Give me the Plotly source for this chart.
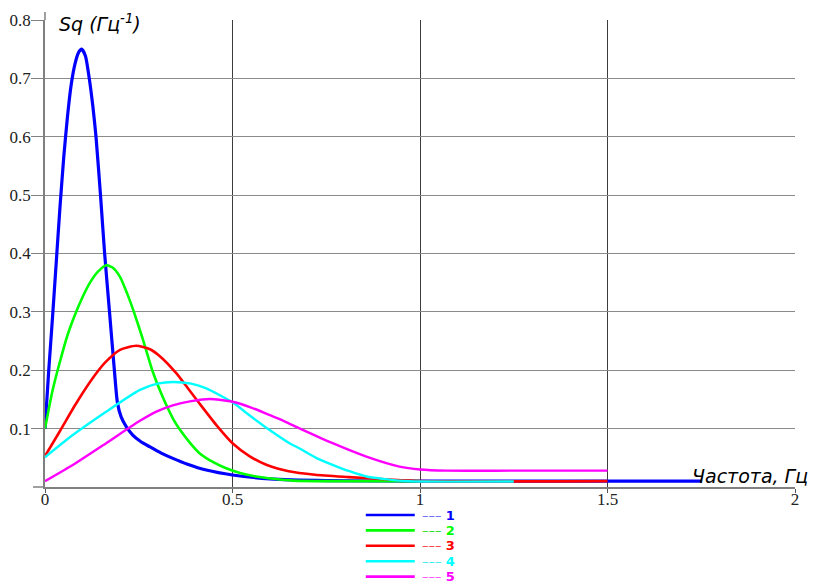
import plotly.graph_objects as go

# ---- data ----
freq1 = [0, 0.01, 0.02, 0.03, 0.04, 0.05, 0.06, 0.07, 0.08, 0.09, 0.098, 0.108, 0.118, 0.128,
         0.136, 0.148, 0.159, 0.172, 0.185, 0.193, 0.203, 0.217, 0.234, 0.255, 0.279, 0.31,
         0.341, 0.38, 0.43, 0.5, 0.6, 0.75, 1.0, 1.75]
sq1 = [0.10, 0.20, 0.29, 0.385, 0.48, 0.565, 0.635, 0.69, 0.725, 0.745, 0.75, 0.738, 0.70, 0.65,
       0.60, 0.50, 0.40, 0.30, 0.20, 0.145, 0.12, 0.103, 0.089, 0.078, 0.069, 0.058,
       0.049, 0.039, 0.029, 0.0205, 0.014, 0.011, 0.01, 0.01]

freq2 = [0, 0.02, 0.04, 0.06, 0.08, 0.10, 0.12, 0.14, 0.163, 0.18, 0.20, 0.22, 0.237,
         0.26, 0.286, 0.31, 0.343, 0.36, 0.385, 0.412, 0.45, 0.483, 0.52, 0.563, 0.61, 0.66, 0.8, 1.0]
sq2 = [0.10, 0.165, 0.215, 0.26, 0.295, 0.325, 0.35, 0.368, 0.38, 0.376, 0.36, 0.33, 0.30,
       0.255, 0.20, 0.16, 0.115, 0.098, 0.077, 0.058, 0.042, 0.032, 0.024, 0.018, 0.014, 0.011,
       0.01, 0.01]

freq3 = [0, 0.04, 0.08, 0.12, 0.16, 0.20, 0.243, 0.28, 0.31, 0.35, 0.38, 0.412, 0.457, 0.50,
         0.545, 0.59, 0.65, 0.72, 0.81, 0.94, 1.0, 1.5]
sq3 = [0.053, 0.096, 0.14, 0.18, 0.213, 0.235, 0.242, 0.236, 0.222, 0.195, 0.17, 0.143, 0.106,
       0.075, 0.053, 0.038, 0.027, 0.021, 0.017, 0.012, 0.01, 0.01]

freq4 = [0, 0.074, 0.163, 0.252, 0.30, 0.341, 0.39, 0.43, 0.50, 0.545, 0.599, 0.652, 0.679,
         0.723, 0.767, 0.812, 0.857, 0.90, 0.945, 1.0, 1.25]
sq4 = [0.051, 0.089, 0.129, 0.166, 0.177, 0.18, 0.177, 0.169, 0.145, 0.123, 0.0976, 0.075, 0.066,
       0.05, 0.038, 0.027, 0.018, 0.014, 0.011, 0.0095, 0.0095]

freq5 = [0, 0.074, 0.163, 0.252, 0.30, 0.341, 0.39, 0.439, 0.50, 0.55, 0.60, 0.64, 0.68, 0.767,
         0.857, 0.945, 1.0, 1.07, 1.25, 1.5]
sq5 = [0.01, 0.0377, 0.075, 0.113, 0.13, 0.14, 0.147, 0.1507, 0.146, 0.136, 0.123, 0.112, 0.10,
       0.075, 0.052, 0.035, 0.030, 0.028, 0.028, 0.028]

series_labels = ["1", "2", "3", "4", "5"]
x_tickvals = [0, 0.5, 1, 1.5, 2]
x_ticktext = ["0", "0.5", "1", "1.5", "2"]
y_tickvals = [0.1, 0.2, 0.3, 0.4, 0.5, 0.6, 0.7, 0.8]
y_ticktext = ["0.1", "0.2", "0.3", "0.4", "0.5", "0.6", "0.7", "0.8"]
y_title = "Sq (Гц<sup>-1</sup>)"
x_title = "Частота, Гц"

# ---- styles ----
colors = ["#0000ff", "#00ff00", "#ff0000", "#00ffff", "#ff00ff"]
dash_colors = ["#6a6aff", "#20e020", "#ff4040", "#30eaea", "#ff50ff"]
widths = [3.2, 2.6, 2.6, 2.4, 2.4]

xs = [freq1, freq2, freq3, freq4, freq5]
ys = [sq1, sq2, sq3, sq4, sq5]

fig = go.Figure()
for i in range(5):
    fig.add_trace(go.Scatter(
        x=xs[i], y=ys[i], mode="lines", name=series_labels[i],
        line=dict(color=colors[i], width=widths[i], shape="spline", smoothing=0.6),
        showlegend=False, hoverinfo="skip"))

# the page body adds an 8px offset around the figure
OFF = 8
W, H = 816 - OFF, 585 - OFF
ml, mr, mt, mb = 45 - OFF, 20.5, 20 - OFF, 98
pw, ph = W - ml - mr, H - mt - mb
win_bottom = 487  # plot bottom in window pixels


def py_to_paper(py):
    return (win_bottom - py) / ph


def px_to_paper(px):
    return (px - 45) / pw


tickfont = dict(family="Liberation Serif", size=17, color="#222")

fig.update_layout(
    width=W, height=H,
    margin=dict(l=ml, r=mr, t=mt, b=mb, pad=0, autoexpand=False),
    paper_bgcolor="white", plot_bgcolor="white",
    xaxis=dict(range=[0, 2], tickvals=x_tickvals, ticktext=x_ticktext, automargin=False,
               showgrid=True, gridcolor="#3c3c3c", gridwidth=1,
               showline=True, linecolor="#808080", linewidth=1.5,
               ticks="outside", ticklen=4, tickcolor="#555", tickfont=tickfont,
               ticklabelstandoff=-8,
               zeroline=False, fixedrange=True),
    yaxis=dict(range=[0, 0.8], tickvals=y_tickvals, ticktext=y_ticktext, automargin=False,
               showgrid=True, gridcolor="#8a8a8a", gridwidth=1,
               showline=True, linecolor="#808080", linewidth=1.5,
               ticks="outside", ticklen=12, tickcolor="#808080", tickfont=tickfont,
               ticklabelstandoff=-3,
               zeroline=False, fixedrange=True),
)

# axis line extensions (above the y axis, left of the x axis)
fig.add_shape(type="line", xref="paper", yref="paper", x0=0, x1=0, y0=1, y1=1 + 8 / ph,
              line=dict(color="#808080", width=1.5))
fig.add_shape(type="line", xref="paper", yref="paper", x0=-12 / pw, x1=0, y0=0, y1=0,
              line=dict(color="#808080", width=1.5))

title_font = dict(family="DejaVu Sans", size=19, color="black", style="italic")
fig.add_annotation(text=y_title, xref="paper", yref="y", x=px_to_paper(57), y=0.8,
                   xanchor="left", yanchor="middle", yshift=-3, showarrow=False, font=title_font)
fig.add_annotation(text=x_title, xref="paper", yref="paper", x=px_to_paper(811),
                   y=py_to_paper(476), xanchor="right", yanchor="middle", showarrow=False,
                   font=title_font)

# legend drawn below the plot
row0, step = 515, 15.4
for i in range(5):
    yp = py_to_paper(row0 + i * step)
    fig.add_shape(type="line", xref="paper", yref="paper",
                  x0=px_to_paper(366), x1=px_to_paper(415), y0=yp, y1=yp,
                  line=dict(color=colors[i], width=2.6))
    fig.add_annotation(
        text=f"<span style='color:{dash_colors[i]}'>–––</span> <b>{series_labels[i]}</b>",
        xref="paper", yref="paper", x=px_to_paper(420), y=yp, xanchor="left", yanchor="middle",
        showarrow=False, font=dict(family="DejaVu Sans", size=13, color=colors[i]))

fig.write_html("out.html")
